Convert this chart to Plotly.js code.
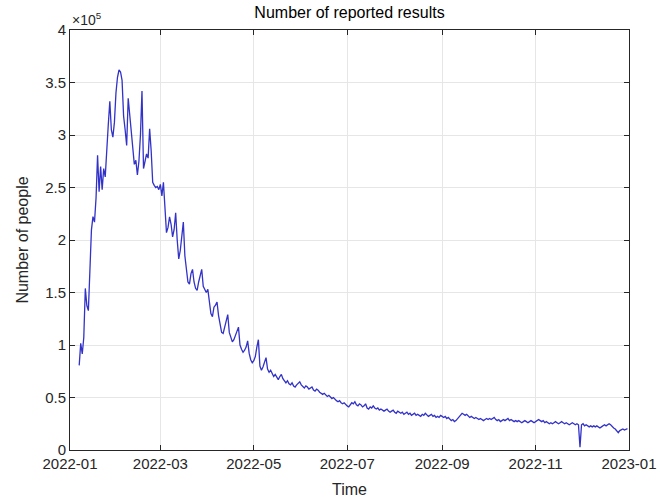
<!DOCTYPE html>
<html>
<head>
<meta charset="utf-8">
<script src="https://cdn.plot.ly/plotly-3.0.1.min.js"></script>
<style>html,body{margin:0;padding:0;background:#fff;}#chart{width:660px;height:502px;}</style>
</head>
<body>
<div id="chart"></div>
<script>
// Daily number of reported results (Jan 7 .. Dec 31, 2022)
const startDay = {jan: 7};
const jan = [80630,101503,91477,107134,153880,137586,132726,169441,209609,222197,217000,240000,280622,246000,270000,248000,268000,260000,292000,310000,332000,305000,298000,312000,340000];
const feb = [355000,361908,360000,352000,318000,305000,290000,335000,318000,300000,285000,272000,276000,262000,275000,300000,342000,268000,275000,282000,278000,306000,285000,255000,252000,250000,251000,248000];
const mar = [253000,242000,255000,228000,207000,212000,222000,215000,203000,210000,226000,200000,182000,190000,205000,217000,185000,170000,160000,158000,168000,172000,160000,154000,152000,160000,165000,172000,156000,152000,150000];
const apr = [153000,140000,130000,127000,136000,138000,141000,128000,120000,112000,111000,118000,124000,129000,112000,108000,103000,105000,110000,113000,117000,100000,96000,93000,95000,98000,104000,92000,86000,83000];
const may = [85000,89000,98000,105000,80000,76000,79000,84000,88000,77000,74000,76000,72000,70000,72000,69000,67000,70000,72000,68000,66000,64000,66000,63000,62000,64000,61000,60000,62000,64000,65000];
const jun = [62000,60000,59000,61000,60000,58000,59000,60000,57000,56000,58000,57000,55000,54000,53000,54000,52000,51000,52000,50000,49000,50000,48000,47000,46000,47000,45000,44000,45000,43000];
const jul = [42000,41000,43000,45000,44000,46000,43000,42000,44000,43000,41000,42000,44000,40000,39000,41000,40000,42000,40000,39000,40000,38000,39000,38000,37000,38000,39000,37000,36000,37000,38000];
const aug = [36000,35000,37000,36000,35000,36000,34000,35000,36000,34000,35000,33000,34000,35000,33000,34000,33000,32000,34000,33000,35000,33000,32000,33000,34000,32000,33000,31000,32000,31000,33000];
const sep = [32000,31000,32000,30000,31000,29000,28000,29000,27000,28000,30000,31000,33000,35000,34000,33000,34000,32000,31000,32000,31000,30000,31000,30000,29000,30000,29000,28000,29000,30000];
const oct = [29000,30000,29000,30000,31000,29000,28000,29000,27000,28000,29000,28000,29000,30000,28000,29000,28000,27000,28000,27000,28000,27000,26000,27000,28000,27000,26000,27000,28000,27000,26000];
const nov = [27000,28000,29000,28000,27000,28000,26000,27000,26000,25000,26000,25000,26000,27000,26000,25000,26000,27000,26000,25000,26000,25000,24000,25000,26000,25000,24000,25000,24000,2569];
const dec = [24000,25000,23000,24000,23000,22000,23000,22000,23000,22000,23000,22000,21000,22000,23000,24000,23000,24000,25000,24000,22000,21000,20000,18000,16500,18500,19000,20000,19000,20000,20380];
const monthKeys = ['jan','feb','mar','apr','may','jun','jul','aug','sep','oct','nov','dec'];
const monthVals = {jan,feb,mar,apr,may,jun,jul,aug,sep,oct,nov,dec};
const yTickVals = [0,50000,100000,150000,200000,250000,300000,350000,400000];
const yTickText = ['0','0.5','1','1.5','2','2.5','3','3.5','4'];
const xTickVals = ['2022-01-01','2022-03-01','2022-05-01','2022-07-01','2022-09-01','2022-11-01','2023-01-01'];
const xTickText = ['2022-01','2022-03','2022-05','2022-07','2022-09','2022-11','2023-01'];

const x = [], y = [];
monthKeys.forEach((k, mi) => {
  const first = startDay[k] || 1;
  monthVals[k].forEach((v, i) => {
    const d = first + i;
    x.push('2022-' + String(mi + 1).padStart(2, '0') + '-' + String(d).padStart(2, '0'));
    y.push(v);
  });
});

const axisColor = '#262626';
const fam = 'Liberation Sans, Arial, sans-serif';

Plotly.newPlot('chart', [{
  x: x, y: y, type: 'scatter', mode: 'lines',
  line: {color: '#3232c8', width: 1.3},
  hoverinfo: 'skip'
}], {
  width: 660, height: 502,
  margin: {l: 70, r: 31, t: 30, b: 52},
  paper_bgcolor: '#fff', plot_bgcolor: '#fff',
  font: {family: fam, size: 15, color: axisColor},
  showlegend: false,
  title: {text: 'Number of reported results', x: 0.5, xref: 'paper', y: 1, yref: 'paper', yanchor: 'bottom', pad: {b: 12}, font: {family: fam, size: 16, color: '#000'}},
  xaxis: {
    type: 'date', range: ['2022-01-01', '2023-01-01'],
    tickmode: 'array', tickvals: xTickVals, ticktext: xTickText,
    showgrid: true, gridcolor: '#e6e6e6', gridwidth: 1,
    showline: true, linecolor: axisColor, linewidth: 1, mirror: 'ticks',
    ticks: 'inside', ticklen: 5, tickcolor: axisColor,
    zeroline: false, tickfont: {size: 15, color: axisColor},
    title: {text: 'Time', font: {size: 16, color: axisColor}, standoff: 12}
  },
  yaxis: {
    range: [0, 400000],
    tickmode: 'array', tickvals: yTickVals, ticktext: yTickText,
    showgrid: true, gridcolor: '#e6e6e6', gridwidth: 1,
    showline: true, linecolor: axisColor, linewidth: 1, mirror: 'ticks',
    ticks: 'inside', ticklen: 5, tickcolor: axisColor,
    zeroline: false, tickfont: {size: 15, color: axisColor},
    title: {text: 'Number of people', font: {size: 16, color: axisColor}, standoff: 12}
  },
  annotations: [{
    text: '×10<sup>5</sup>', xref: 'paper', yref: 'paper', x: 0, y: 1,
    xanchor: 'left', yanchor: 'bottom', showarrow: false,
    font: {size: 14, color: axisColor}
  }]
}, {displayModeBar: false, staticPlot: true});
</script>
</body>
</html>
